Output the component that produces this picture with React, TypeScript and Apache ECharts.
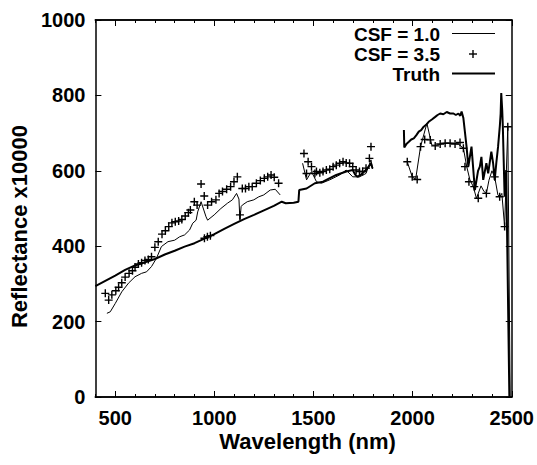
import React, { useEffect, useRef } from 'react';
import * as echarts from 'echarts';

// Truth spectrum (null = gap)
const truthX = [400, 450, 500, 550, 600, 650, 700, 750, 800, 850, 900, 950, 1000, 1050, 1100, 1150, 1200, 1250, 1300, 1340, 1360, 1400, 1424, 1428, 1465, 1507, 1548, 1580, 1615, 1665, 1698, 1710, 1722, 1740, 1760, 1780, 1790, 1798, 1870, 1956, 1958, 1970, 1981, 1993, 2006, 2018, 2031, 2043, 2056, 2068, 2081, 2097, 2114, 2126, 2139, 2155, 2172, 2189, 2206, 2218, 2231, 2240, 2247, 2256, 2272, 2281, 2297, 2314, 2330, 2339, 2347, 2356, 2372, 2381, 2397, 2406, 2414, 2422, 2431, 2440, 2444, 2447, 2452, 2455, 2464, 2472, 2488];
const truthY = [294, 308, 322, 337, 349, 357, 366, 378, 388, 399, 408, 420, 432, 446, 459, 472, 483, 495, 507, 518, 514, 515, 518, 549, 553, 567, 571, 580, 589, 598, 602, 590, 584, 590, 600, 612, 620, 606, null, 708, 662, 672, 677, 683, 686, 694, 704, 708, 717, 722, 730, 736, 743, 748, 752, 750, 756, 752, 752, 748, 752, 746, 757, 740, 664, 611, 664, 549, 600, 611, 637, 576, 620, 593, 651, 620, 576, 620, 664, 720, 752, 806, 760, 717, 531, 602, 0];

// CSF = 1.0 (thin line, null = gap)
const csf1X = [458, 475, 500, 533, 567, 600, 633, 658, 683, 708, 733, 766, 800, 825, 850, 875, 891, 908, 916, 933, 958, 966, 999, 1033, 1066, 1091, 1112, 1124, 1129, 1135, 1141, 1166, 1199, 1224, 1249, 1282, 1307, 1332, 1390, 1445, 1465, 1490, 1515, 1540, 1582, 1632, 1665, 1698, 1732, 1765, 1790, 1798, 1880, 1973, 1998, 2015, 2040, 2072, 2097, 2122, 2156, 2197, 2231, 2256, 2273, 2289, 2306, 2322, 2345, 2360, 2372, 2385, 2400, 2414, 2430, 2439, 2450, 2464, 2480, 2492];
const csf1Y = [222, 226, 248, 279, 302, 319, 328, 332, 346, 368, 399, 412, 416, 425, 430, 443, 461, 469, 491, 518, 478, 469, 483, 500, 514, 523, 540, 525, 469, 505, 509, 518, 523, 531, 536, 549, 551, 536, null, 620, 576, 598, 571, 567, 576, 589, 602, 584, 584, 593, 629, 605, null, 624, 584, 577, 664, 726, 668, 668, 673, 673, 671, 660, 611, 576, 558, 527, 560, 545, 540, 575, 600, 584, 536, 531, 540, 452, 717, 0];

// CSF = 3.5 (points)
const csf35X = [450, 467, 483, 503, 517, 533, 550, 570, 587, 600, 617, 633, 650, 667, 683, 700, 717, 736, 753, 770, 786, 803, 820, 836, 853, 869, 879, 899, 913, 933, 949, 950, 965, 980, 966, 986, 1008, 1024, 1041, 1062, 1082, 1099, 1116, 1129, 1141, 1157, 1174, 1191, 1212, 1232, 1252, 1269, 1286, 1302, 1324, 1452, 1465, 1473, 1490, 1507, 1515, 1532, 1548, 1565, 1582, 1599, 1615, 1632, 1649, 1665, 1682, 1698, 1715, 1732, 1748, 1765, 1782, 1790, 1973, 1998, 2023, 2040, 2061, 2089, 2114, 2139, 2164, 2189, 2214, 2239, 2256, 2264, 2284, 2311, 2331, 2372, 2414, 2439, 2464, 2480];
const csf35Y = [275, 257, 271, 282, 291, 303, 318, 328, 335, 344, 353, 356, 362, 365, 372, 397, 412, 432, 441, 452, 462, 465, 467, 471, 480, 489, 496, 518, 509, 565, 533, 421, 425, 428, 509, 518, 523, 540, 545, 551, 558, 571, 584, 483, 553, 553, 558, 558, 567, 574, 580, 584, 589, 583, 567, 646, 593, 624, 611, 593, 598, 595, 598, 602, 604, 611, 615, 620, 624, 621, 620, 611, 602, 598, 598, 607, 633, 664, 624, 584, 577, 664, 683, 682, 666, 671, 673, 673, 671, 675, 660, 611, 571, 558, 527, 540, 584, 531, 452, 717];

const xMajor = [500, 1000, 1500, 2000, 2500];
const legendNames = ['CSF = 1.0', 'CSF = 3.5', 'Truth'];

const FONT = '"Liberation Sans", Arial, Helvetica, sans-serif';
const PLUS = 'path://M3.3,0H4.7V3.3H8V4.7H4.7V8H3.3V4.7H0V3.3H3.3Z';

function toPairs(xs: number[], ys: (number | null)[]) {
  return xs.map((x, i) => (ys[i] === null ? [x, '-'] : [x, ys[i]]));
}

export default function App() {
  const ref = useRef<HTMLDivElement>(null);
  useEffect(() => {
    if (!ref.current) return;
    const chart = echarts.init(ref.current, undefined, { renderer: 'svg' });
    const axisLine = { show: true, lineStyle: { color: '#000', width: 1.5 } };
    const labelStyle = { color: '#000', fontSize: 20, fontWeight: 'bold' as const, fontFamily: FONT, formatter: (v: number) => String(v) };
    const baseX = { type: 'value' as const, min: 400, max: 2500, splitLine: { show: false }, axisLine };
    const legendFont = `bold 19px ${FONT}`;
    const option: any = {
      animation: false,
      backgroundColor: '#fff',
      grid: { left: 93, right: 23, top: 20, bottom: 68 },
      xAxis: [
        {
          ...baseX, position: 'bottom', interval: 100,
          axisTick: { show: true, inside: true, length: 3, lineStyle: { color: '#000', width: 1 } },
          axisLabel: { show: false },
          name: 'Wavelength (nm)', nameLocation: 'middle', nameGap: 33,
          nameTextStyle: { color: '#000', fontSize: 22, fontWeight: 'bold', fontFamily: FONT, padding: [0, 0, 0, 8] },
        },
        {
          ...baseX, position: 'bottom',
          axisTick: { show: true, inside: true, length: 6, customValues: xMajor, lineStyle: { color: '#000', width: 1 } },
          axisLabel: { ...labelStyle, margin: 11, customValues: xMajor },
        },
        {
          ...baseX, position: 'top', interval: 100,
          axisTick: { show: true, inside: true, length: 3, lineStyle: { color: '#000', width: 1 } },
          axisLabel: { show: false },
        },
        {
          ...baseX, position: 'top',
          axisTick: { show: true, inside: true, length: 6, customValues: xMajor, lineStyle: { color: '#000', width: 1 } },
          axisLabel: { show: false, customValues: xMajor },
        },
      ],
      yAxis: [
        {
          type: 'value', position: 'left', min: 0, max: 1000, interval: 200,
          splitLine: { show: false }, axisLine,
          axisTick: { show: true, inside: true, length: 6, lineStyle: { color: '#000', width: 1 } },
          axisLabel: { ...labelStyle, margin: 10 },
          name: 'Reflectance x10000', nameLocation: 'middle', nameGap: 58,
          nameTextStyle: { color: '#000', fontSize: 22, fontWeight: 'bold', fontFamily: FONT, padding: [0, 36, 0, 0] },
        },
        {
          type: 'value', position: 'right', min: 0, max: 1000, interval: 200,
          splitLine: { show: false }, axisLine,
          axisTick: { show: true, inside: true, length: 6, lineStyle: { color: '#000', width: 1 } },
          axisLabel: { show: false },
        },
      ],
      series: [
        {
          name: legendNames[0], type: 'line', data: toPairs(csf1X, csf1Y),
          showSymbol: false, connectNulls: false,
          lineStyle: { color: '#000', width: 1 }, z: 3,
        },
        {
          name: legendNames[1], type: 'scatter', data: toPairs(csf35X, csf35Y),
          symbol: PLUS, symbolSize: 8,
          itemStyle: { color: '#000', opacity: 1 }, z: 4,
        },
        {
          name: legendNames[2], type: 'line', data: toPairs(truthX, truthY),
          showSymbol: false, connectNulls: false,
          lineStyle: { color: '#000', width: 2 }, z: 2,
        },
      ],
      graphic: [
        { type: 'text', x: 440, y: 34.5, style: { text: legendNames[0], textAlign: 'right', textVerticalAlign: 'middle', fill: '#000', font: legendFont } },
        { type: 'line', shape: { x1: 452, y1: 33.5, x2: 495, y2: 33.5 }, style: { stroke: '#000', lineWidth: 1 } },
        { type: 'text', x: 440, y: 54.3, style: { text: legendNames[1], textAlign: 'right', textVerticalAlign: 'middle', fill: '#000', font: legendFont } },
        { type: 'line', shape: { x1: 469, y1: 54, x2: 477, y2: 54 }, style: { stroke: '#000', lineWidth: 1.4 } },
        { type: 'line', shape: { x1: 473, y1: 50, x2: 473, y2: 58 }, style: { stroke: '#000', lineWidth: 1.4 } },
        { type: 'text', x: 440, y: 74.1, style: { text: legendNames[2], textAlign: 'right', textVerticalAlign: 'middle', fill: '#000', font: legendFont } },
        { type: 'line', shape: { x1: 452, y1: 73.5, x2: 495, y2: 73.5 }, style: { stroke: '#000', lineWidth: 2 } },
      ],
    };
    chart.setOption(option);
    return () => chart.dispose();
  }, []);
  return <div ref={ref} style={{ position: 'fixed', left: 0, top: 0, width: 537, height: 465 }} />;
}
